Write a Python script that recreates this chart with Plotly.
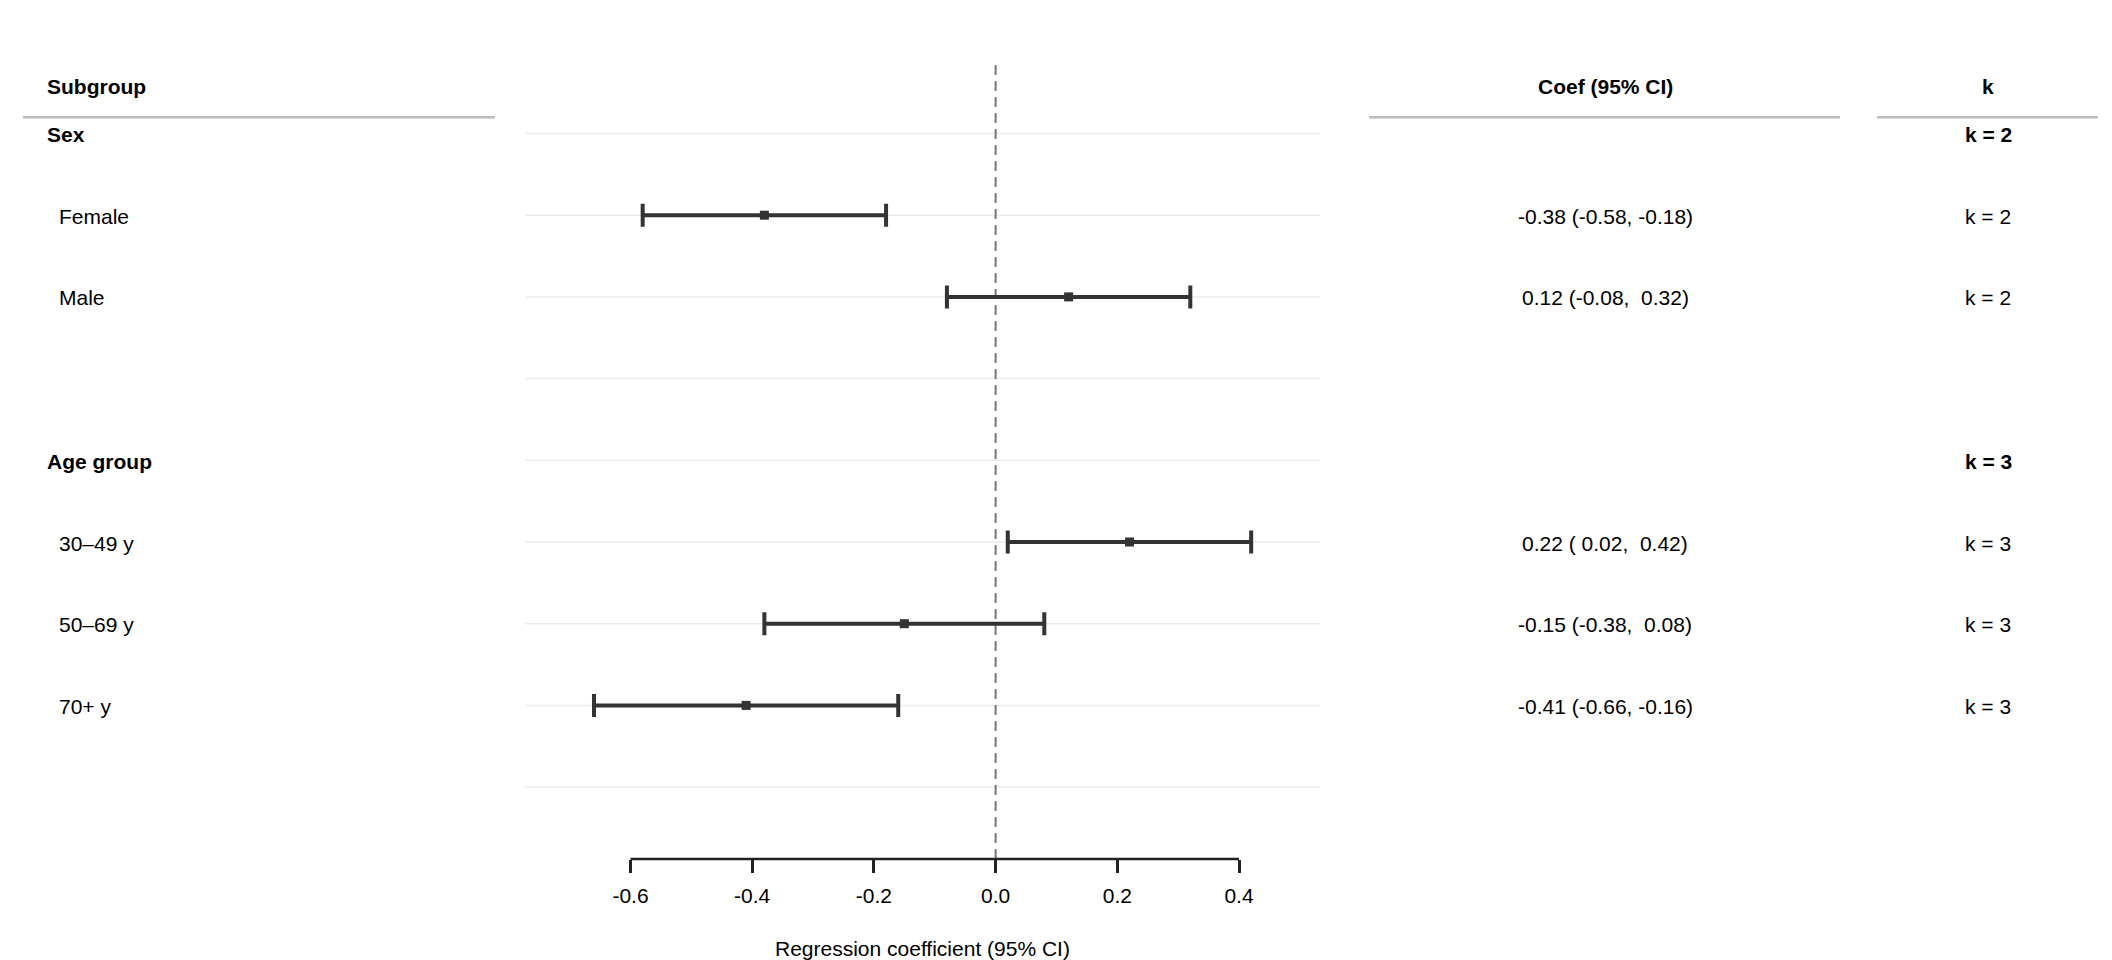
import plotly.graph_objects as go

# ---------------- data ----------------
row_labels = ["Sex", "Female", "Male", "", "Age group", "30–49 y", "50–69 y", "70+ y", ""]
row_is_header = [True, False, False, False, True, False, False, False, False]
coef = [None, -0.38, 0.12, None, None, 0.22, -0.15, -0.41, None]
ci_low = [None, -0.58, -0.08, None, None, 0.02, -0.38, -0.66, None]
ci_high = [None, -0.18, 0.32, None, None, 0.42, 0.08, -0.16, None]
k_text = ["k = 2", "k = 2", "k = 2", "", "k = 3", "k = 3", "k = 3", "k = 3", ""]
x_ticks = [-0.6, -0.4, -0.2, 0.0, 0.2, 0.4]
col_headers = ["Subgroup", "Coef (95% CI)", "k"]
x_title = "Regression coefficient (95% CI)"

# ---------------- layout constants ----------------
W, H = 2112, 960
FONT = "Liberation Sans, Arial, Helvetica, sans-serif"
FS = 21
row0_px, row_step = 133.5, 81.7
plot_left_px, plot_right_px = 525, 1320
px_per_unit, zero_px = 608.5, 995.6
axis_px = 859

def px(xp):
    return xp / W

def py(yp):
    return 1 - yp / H

n = len(row_labels)
idx = list(range(n))

fig = go.Figure()

# point estimates with CI
pts_y = [i for i in idx if coef[i] is not None]
fig.add_trace(go.Scatter(
    x=[coef[i] for i in pts_y],
    y=pts_y,
    mode="markers",
    marker=dict(symbol="square", size=9, color="#333333"),
    error_x=dict(
        type="data", symmetric=False,
        array=[ci_high[i] - coef[i] for i in pts_y],
        arrayminus=[coef[i] - ci_low[i] for i in pts_y],
        color="#333333", thickness=4, width=11.5,
    ),
    hoverinfo="skip",
    showlegend=False,
))

shapes = []
# row gridlines
for i in idx:
    shapes.append(dict(type="line", xref="x domain", yref="y", x0=0, x1=1, y0=i, y1=i,
                       line=dict(color="#ebebeb", width=1.5), layer="below"))
# reference dashed line at 0
shapes.append(dict(type="line", xref="x", yref="paper", x0=0, x1=0,
                   y0=py(axis_px), y1=py(65),
                   line=dict(color="#777777", width=2, dash="10px,6px"), layer="below"))
# axis line spanning tick range
shapes.append(dict(type="line", xref="x", yref="paper", x0=min(x_ticks), x1=max(x_ticks),
                   y0=py(axis_px), y1=py(axis_px),
                   line=dict(color="#222222", width=2.5)))
# header rules
for (a, b) in [(23, 495), (1369, 1840), (1877, 2098)]:
    shapes.append(dict(type="line", xref="paper", yref="paper", x0=px(a), x1=px(b),
                       y0=py(117.3), y1=py(117.3),
                       line=dict(color="#bbbbbb", width=2.5)))

annotations = []
def add_text(text, x, y, xanchor="left", yref="paper", bold=False):
    annotations.append(dict(
        text=f"<b>{text}</b>" if bold else text,
        x=x, y=y, xref="paper", yref=yref, xanchor=xanchor, yanchor="middle",
        showarrow=False, yshift=-1, font=dict(family=FONT, size=FS, color="black"),
    ))

# column headers
add_text(col_headers[0], px(45), py(85.5), "left", bold=True)
add_text(col_headers[1], px(1605), py(85.5), "center", bold=True)
add_text(col_headers[2], px(1988), py(85.5), "center", bold=True)

for i in idx:
    if row_labels[i]:
        add_text(row_labels[i], px(45 if row_is_header[i] else 57), i, "left",
                 yref="y", bold=row_is_header[i])
    if coef[i] is not None:
        s = f"{coef[i]:.2f} ({ci_low[i]:5.2f}, {ci_high[i]:5.2f})".replace(" ", "\u00a0")
        add_text(s, px(1605), i, "center", yref="y")
    if k_text[i]:
        add_text(k_text[i], px(1988), i, "center", yref="y", bold=row_is_header[i])

# x-axis title
annotations.append(dict(
    text=x_title, x=0.5, y=py(948), xref="x domain", yref="paper",
    xanchor="center", yanchor="middle", showarrow=False,
    font=dict(family=FONT, size=FS, color="black"),
))

x_min = (plot_left_px - zero_px) / px_per_unit
x_max = (plot_right_px - zero_px) / px_per_unit
y_top = -row0_px / row_step
y_bot = (H - row0_px) / row_step

fig.update_layout(
    width=W, height=H,
    margin=dict(l=0, r=0, t=0, b=0),
    paper_bgcolor="white", plot_bgcolor="white",
    font=dict(family=FONT, size=FS, color="black"),
    xaxis=dict(
        domain=[px(plot_left_px), px(plot_right_px)],
        range=[x_min, x_max],
        anchor="free", position=py(axis_px),
        showgrid=False, zeroline=False, showline=False,
        tickmode="array", tickvals=x_ticks, ticktext=[f"{t:.1f}" for t in x_ticks],
        ticks="outside", ticklen=13, tickwidth=2.5, tickcolor="#222222",
        ticklabelstandoff=5,
        tickfont=dict(family=FONT, size=FS, color="black"),
        fixedrange=True,
    ),
    yaxis=dict(
        domain=[0, 1], range=[y_bot, y_top], visible=False, fixedrange=True,
    ),
    shapes=shapes,
    annotations=annotations,
)

fig.write_html(
    "out.html",
    config={"displayModeBar": False},
    post_script="document.body.style.margin='0';document.body.style.padding='0';document.body.style.overflow='hidden';",
)
